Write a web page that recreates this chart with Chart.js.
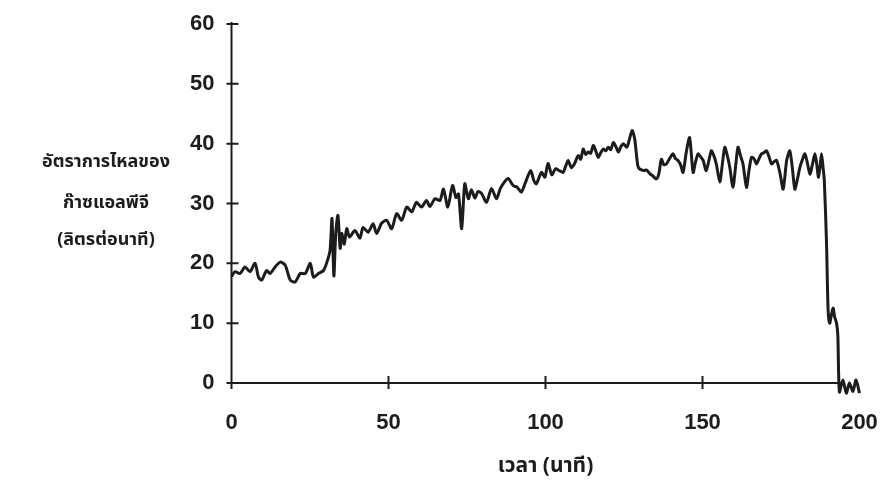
<!DOCTYPE html>
<html>
<head>
<meta charset="utf-8">
<script src="https://cdn.jsdelivr.net/npm/chart.js@4/dist/chart.umd.min.js"></script>
<style>
  html, body { margin: 0; padding: 0; background: #ffffff; }
  #wrap { width: 888px; height: 500px; position: relative; }
</style>
</head>
<body>
<div id="wrap"><canvas id="c" width="888" height="500"></canvas></div>
<script>
// ---- data ----
const timeMin = [
  0, 1.1, 2.7, 4.3, 5.9, 7.5, 8.6, 9.6, 11.2, 12.3, 13.9, 15.5, 17.1, 18.7, 20.3, 21.9, 23.5, 25.1, 26.1, 27.7, 29.3, 30.4, 31.4,
  32.0, 32.6, 33.2, 33.9, 34.6, 35.1, 35.9, 36.7, 37.6, 39.3, 40.9, 41.9, 43.5, 45.1, 46.2, 47.8, 49.4, 51.0, 52.6, 54.2, 55.8, 57.4, 58.9, 60.5, 62.1, 63.2, 64.8, 66.4, 67.5, 68.9, 70.4, 71.5,
  72.3, 73.3, 74.3, 75.4, 76.4, 77.5, 78.5, 79.6, 81.2, 82.8, 84.4, 85.6, 86.8, 88.1, 89.7, 91.0, 92.3, 93.6, 95.3, 96.3, 97.1, 98.7, 99.8, 100.8, 102.0, 103.2, 104.4, 105.6, 106.4, 107.2, 108.2, 109.1,
  110.4, 111.2, 112.0, 112.8, 113.6, 114.4, 115.2, 116.0, 116.8, 117.6, 118.4, 119.2, 120.0, 120.8, 121.6, 122.4, 123.2, 124.0, 124.8, 125.9, 126.6, 127.6, 128.4, 129.0, 129.6,
  131.2, 132.2, 133.2, 134.2, 135.3, 136.1, 136.9, 137.7, 138.5, 139.5, 140.6, 141.4, 142.2, 143.0, 143.8, 144.9, 145.9, 147.0, 147.8, 148.6, 149.4, 150.2, 151.2, 152.8, 153.6, 154.4, 155.5,
  156.3, 157.1, 157.9, 158.7, 159.7, 160.5, 161.3, 162.1, 162.9, 164.0, 164.8, 165.6, 166.4, 167.2, 168.0, 168.8, 169.6, 170.4, 171.2, 172.0, 172.8, 173.6, 174.7, 175.7, 176.8, 177.8, 178.6, 179.4,
  180.2, 181.0, 181.8, 182.6, 183.4, 184.2, 185.0, 185.8, 186.4, 186.9, 187.4, 187.9, 188.4, 188.8, 189.5, 190.0, 190.5, 191.1, 191.6, 192.1, 192.7, 193.1, 193.6, 194.7, 195.8, 196.8, 197.9, 198.9, 200.0
];
const lpgFlow = [
  17.8, 18.6, 18.3, 19.4, 18.6, 20.0, 17.7, 17.2, 18.8, 18.3, 19.4, 20.2, 19.7, 17.2, 16.9, 18.3, 18.3, 20.0, 17.7, 18.3, 18.8, 20.2, 22.2,
  27.5, 17.9, 25.0, 28.0, 22.5, 25.0, 23.2, 25.8, 24.4, 25.5, 24.2, 26.0, 25.2, 26.6, 25.0, 26.7, 27.2, 25.8, 28.3, 27.2, 29.4, 28.6, 30.2, 29.4, 30.5, 29.5, 30.8, 30.5, 32.4, 29.4, 33.0, 31.0,
  31.6, 25.8, 33.3, 30.8, 32.3, 30.9, 32.0, 31.7, 30.2, 32.5, 30.8, 32.5, 33.5, 34.2, 33.0, 32.7, 31.9, 33.5, 35.5, 33.8, 33.3, 35.2, 34.4, 36.7, 34.8, 35.8, 35.5, 35.2, 36.2, 37.2, 36.0, 36.5,
  38.0, 37.4, 39.1, 38.2, 38.6, 38.4, 39.7, 38.8, 37.7, 38.5, 39.1, 38.8, 39.4, 39.0, 40.2, 39.5, 38.6, 39.5, 40.0, 39.4, 40.5, 42.2, 40.8, 38.0, 36.0,
  35.5, 35.6, 35.0, 34.6, 34.1, 35.0, 37.4, 36.5, 36.6, 37.5, 38.3, 37.5, 37.2, 36.5, 35.2, 38.8, 41.0, 35.2, 37.0, 38.3, 37.8, 37.2, 35.5, 38.8, 38.0, 36.6, 33.6,
  36.5, 39.4, 38.0, 36.0, 32.7, 36.0, 39.4, 38.0, 36.6, 32.7, 35.5, 37.7, 37.5, 36.6, 37.5, 38.3, 38.5, 38.8, 37.8, 36.6, 37.0, 37.2, 35.0, 32.4, 37.2, 38.8, 36.0, 32.4,
  34.0, 36.0, 37.3, 38.3, 36.8, 34.9, 36.5, 38.3, 36.5, 34.4, 36.0, 38.3, 36.0, 33.8, 23.3, 12.2, 10.0, 11.5, 12.5, 11.0, 10.0, 8.0, -1.5, 0.5, -1.7, 0.0, -1.4, 0.5, -1.7
];
const xTicks = [0, 50, 100, 150, 200];
const yTicks = [0, 10, 20, 30, 40, 50, 60];
const xAxisEnd = 194;
const yTitleLines = ['อัตราการไหลของ', 'ก๊าซแอลพีจี', '(ลิตรต่อนาที)'];
const xTitle = 'เวลา (นาที)';

const points = timeMin.map((t, i) => ({ x: t, y: lpgFlow[i] }));
const INK = '#1c1c1c';
const tickFont = { family: "'Liberation Sans', Arial, sans-serif", size: 22, weight: 'bold' };

const axesPlugin = {
  id: 'handAxes',
  beforeDatasetsDraw(chart) {
    const { ctx, scales: { x, y } } = chart;
    const x0 = x.getPixelForValue(0), y0 = y.getPixelForValue(0);
    ctx.save();
    ctx.strokeStyle = INK;
    ctx.lineWidth = 2;
    ctx.beginPath();
    ctx.moveTo(x0 - 2, y0);
    ctx.lineTo(x.getPixelForValue(xAxisEnd), y0);
    ctx.moveTo(x0, y0 + 6);
    ctx.lineTo(x0, y.getPixelForValue(60) - 2);
    yTicks.forEach(v => {
      const py = y.getPixelForValue(v);
      ctx.moveTo(x0 - 5, py); ctx.lineTo(x0 + 7, py);
    });
    xTicks.forEach(v => {
      if (v > xAxisEnd) return;
      const px = x.getPixelForValue(v);
      ctx.moveTo(px, y0 - 7); ctx.lineTo(px, y0 + 6);
    });
    ctx.stroke();
    // y-axis title, horizontal, three lines
    ctx.fillStyle = INK;
    ctx.font = "bold 18px 'Noto Sans Thai', 'Noto Sans', sans-serif";
    ctx.textAlign = 'center';
    ctx.textBaseline = 'middle';
    const ly = [163, 204, 241];
    yTitleLines.forEach((s, i) => ctx.fillText(s, 106, ly[i]));
    ctx.restore();
  }
};

new Chart(document.getElementById('c'), {
  type: 'line',
  data: {
    datasets: [{
      data: points,
      borderColor: INK,
      borderWidth: 3,
      pointRadius: 0,
      tension: 0.25,
      fill: false,
      clip: 12
    }]
  },
  options: {
    responsive: false,
    animation: false,
    devicePixelRatio: 1,
    layout: { padding: { top: 24, right: 28.5, bottom: 0, left: 0 } },
    plugins: { legend: { display: false }, tooltip: { enabled: false } },
    scales: {
      x: {
        type: 'linear', min: 0, max: 200,
        afterBuildTicks(s) { s.ticks = xTicks.map(v => ({ value: v })); },
        afterFit(s) { s.height = 117; s.paddingLeft = 0; s.paddingRight = 0; },
        grid: { display: false, drawTicks: false },
        border: { display: false },
        ticks: { color: INK, font: tickFont, padding: 27, maxRotation: 0 },
        title: {
          display: true, text: xTitle, color: INK,
          font: { family: "'Noto Sans Thai', 'Noto Sans', sans-serif", size: 21, weight: 'bold' },
          padding: { top: 0, bottom: 20 }
        }
      },
      y: {
        type: 'linear', min: 0, max: 60,
        afterBuildTicks(s) { s.ticks = yTicks.map(v => ({ value: v })); },
        afterFit(s) { s.width = 231.5; s.paddingTop = 0; s.paddingBottom = 0; },
        grid: { display: false, drawTicks: false },
        border: { display: false },
        ticks: { color: INK, font: tickFont, padding: 17 }
      }
    }
  },
  plugins: [axesPlugin]
});
</script>
</body>
</html>
